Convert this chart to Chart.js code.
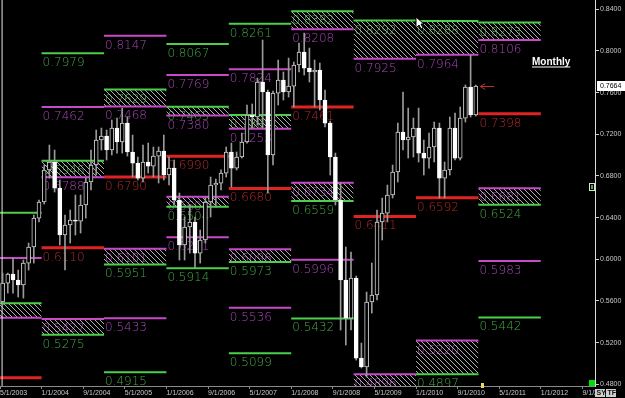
<!DOCTYPE html>
<html><head><meta charset="utf-8">
<script src="https://cdn.jsdelivr.net/npm/chart.js@4.4.1/dist/chart.umd.min.js"></script>
<style>html,body{margin:0;padding:0;background:#000;overflow:hidden}</style>
</head><body>
<canvas id="c" width="625" height="398"></canvas>
<script>
// ---- data: monthly candles, first bar = May 2003 (month index 4 counted from Jan 2003) ----
const firstMonth = 4;
const openP = [
 0.5590,0.5772,0.5859,0.5801,0.5753,0.5964,0.6118,0.6396,
 0.6550,0.6857,0.6934,0.6684,0.6233,0.6329,0.6377,0.6367,0.6521,0.6742,0.6905,0.7145,
 0.7183,0.7049,0.7260,0.7126,0.7308,0.7030,0.6924,0.6780,0.6934,0.6895,0.6991,0.7039,
 0.6809,0.6876,0.6569,0.6137,0.6310,0.6358,0.6060,0.6185,0.6550,0.6713,0.6732,0.6828,
 0.7030,0.6876,0.6982,0.7126,0.7385,0.7366,0.7702,0.7606,0.7001,0.7596,0.7721,0.7606,
 0.7663,0.7865,0.7990,0.7836,0.7798,0.7817,0.7529,0.7308,0.6982,0.6569,0.5801,0.5436,
 0.5820,0.5052,0.4966,0.5590,0.5657,0.6358,0.6444,0.6617,0.6838,0.7222,0.7145,0.7174,
 0.7260,0.7020,0.6972,0.7078,0.7260,0.6780,0.6857,0.7260,0.6972,0.7356,0.7654,0.7385];
const highP = [
 0.5868,0.5868,0.6012,0.5897,0.5993,0.6156,0.6425,0.6569,
 0.6905,0.7097,0.7049,0.6761,0.6425,0.6473,0.6617,0.6617,0.6780,0.7049,0.7241,0.7260,
 0.7241,0.7337,0.7356,0.7452,0.7366,0.7193,0.6982,0.7097,0.7116,0.7078,0.7078,0.7193,
 0.6982,0.6953,0.6636,0.6406,0.6521,0.6406,0.6281,0.6598,0.6790,0.6770,0.6860,0.7078,
 0.7116,0.7030,0.7212,0.7481,0.7491,0.7740,0.8105,0.7625,0.7615,0.7913,0.7798,0.7932,
 0.7894,0.8076,0.8172,0.8028,0.7913,0.7884,0.7625,0.7327,0.7020,0.6732,0.6118,0.6070,
 0.5840,0.5196,0.5686,0.5964,0.6473,0.6588,0.6713,0.6905,0.7308,0.7606,0.7452,0.7356,
 0.7452,0.7145,0.7212,0.7318,0.7308,0.6934,0.7366,0.7404,0.7462,0.7673,0.7961,0.7673];
const lowP = [
 0.5561,0.5676,0.5676,0.5638,0.5628,0.5897,0.5964,0.6358,
 0.6531,0.6780,0.6646,0.6137,0.5897,0.6156,0.6233,0.6252,0.6396,0.6665,0.6809,0.7049,
 0.6953,0.7001,0.7020,0.7020,0.6991,0.6790,0.6761,0.6742,0.6828,0.6790,0.6732,0.6761,
 0.6713,0.6521,0.5993,0.5993,0.6060,0.5917,0.5964,0.6156,0.6406,0.6502,0.6665,0.6790,
 0.6694,0.6857,0.6972,0.7116,0.7260,0.7289,0.7260,0.6636,0.6905,0.7481,0.7529,0.7558,
 0.7462,0.7798,0.7769,0.7702,0.7462,0.7433,0.7270,0.6809,0.6521,0.5321,0.5177,0.5321,
 0.5033,0.4957,0.4870,0.5484,0.5609,0.6185,0.6358,0.6588,0.6742,0.7049,0.6972,0.6982,
 0.6934,0.6809,0.6876,0.6934,0.6588,0.6588,0.6809,0.6953,0.6953,0.7318,0.7366,0.7375];
const closeP = [
 0.5772,0.5859,0.5801,0.5753,0.5964,0.6118,0.6396,0.6550,
 0.6857,0.6934,0.6684,0.6233,0.6329,0.6377,0.6367,0.6521,0.6742,0.6905,0.7145,0.7183,
 0.7049,0.7260,0.7126,0.7308,0.7030,0.6924,0.6780,0.6934,0.6895,0.6991,0.7039,0.6809,
 0.6876,0.6569,0.6137,0.6310,0.6358,0.6060,0.6185,0.6550,0.6713,0.6732,0.6828,0.7030,
 0.6876,0.6982,0.7126,0.7385,0.7366,0.7702,0.7606,0.7001,0.7596,0.7721,0.7606,0.7663,
 0.7865,0.7990,0.7836,0.7798,0.7817,0.7529,0.7308,0.6982,0.6569,0.5801,0.5436,0.5820,
 0.5052,0.4966,0.5590,0.5657,0.6358,0.6444,0.6617,0.6838,0.7222,0.7145,0.7174,0.7260,
 0.7020,0.6972,0.7078,0.7260,0.6780,0.6857,0.7260,0.6972,0.7356,0.7654,0.7385,0.7664];

// ---- yearly pivot levels (null = outside the visible range) ----
const pivotYears = [2003,2004,2005,2006,2007,2008,2009,2010,2011];
const r3Green   = [0.6447,0.7979,null,  0.8067,0.8261,null,  null,  null,  null  ];
const r2Magenta = [0.6013,0.7462,0.8147,0.7769,0.7824,null,  null,  null,  null  ];
const r1Green   = [0.5578,0.6946,0.7629,0.7465,0.7385,0.8382,0.8292,0.8288,0.8273];
const r1Magenta = [0.5440,0.6788,0.7468,0.7380,0.7253,0.8208,0.7925,0.7964,0.8106];
const pivotRed  = [0.4864,0.6110,0.6790,0.6990,0.6680,0.7461,0.6411,0.6592,0.7398];
const s1Magenta = [null,  0.5427,0.6101,0.6601,0.6096,0.6734,0.4896,0.5220,0.6681];
const s1Green   = [null,  0.5275,0.5951,0.6504,0.5973,0.6559,null,  0.4897,0.6524];
const s2Magenta = [null,  null,  0.5433,0.6211,0.5536,0.5996,null,  null,  0.5983];
const s3Green   = [null,  null,  0.4915,0.5914,0.5099,0.5432,null,  null,  0.5442];

// ---- axes ----
const xTickMonths = [4,12,20,28,36,44,52,60,68,76,84,92,100,108,116];
const xTickLabels = ['5/1/2003','1/1/2004','9/1/2004','5/1/2005','1/1/2006','9/1/2006','5/1/2007','1/1/2008','9/1/2008','5/1/2009','1/1/2010','9/1/2010','5/1/2011','1/1/2012','9/1/2012'];
const yTickValues = [0.48,0.52,0.56,0.60,0.64,0.68,0.72,0.76,0.80,0.84];
const separatorMonth = 4.4;
const chartTitle = 'Monthly';

const X_MIN = 4, X_MAX = 118.42, Y_MIN = 0.47838, Y_MAX = 0.84893;
const COL = {
  g: {line:'#4cd04c', text:'#44a844'},
  m: {line:'#c84ac8', text:'#a847b6'},
  r: {line:'#e02222', text:'#b62a2a'}
};

function hatch(){
  const p = 5, c = document.createElement('canvas'); c.width = p; c.height = p;
  const g = c.getContext('2d'); g.strokeStyle = 'rgba(205,205,205,0.85)'; g.lineWidth = 1;
  g.beginPath();
  for (const k of [-p,0,p]) { g.moveTo(k,0); g.lineTo(k+p,p); }
  g.stroke();
  return document.getElementById('c').getContext('2d').createPattern(c,'repeat');
}
const hatchPat = hatch();

const datasets = [];
const levelLabels = [];
function addLevel(v, i, kind, width){
  if (v == null) return -1;
  const s = (pivotYears[i]-2003)*12, e = s+12;
  datasets.push({type:'line', data:[{x:s,y:v},{x:e,y:v}], borderColor:COL[kind].line,
    borderWidth:width, pointRadius:0, fill:false, order:5, tension:0});
  levelLabels.push({x:s, y:v, text:v.toFixed(4), color:COL[kind].text});
  return datasets.length-1;
}
pivotYears.forEach((yr,i)=>{
  addLevel(r3Green[i], i, 'g', 2);
  addLevel(r2Magenta[i], i, 'm', 2);
  const b1 = addLevel(r1Magenta[i], i, 'm', 2);
  const t1 = addLevel(r1Green[i], i, 'g', 2);
  if (t1 >= 0) { datasets[t1].fill = b1 >= 0 ? {target:b1} : 'start'; datasets[t1].backgroundColor = hatchPat; }
  addLevel(pivotRed[i], i, 'r', 3);
  const b2 = addLevel(s1Green[i], i, 'g', 2);
  const t2 = addLevel(s1Magenta[i], i, 'm', 2);
  if (t2 >= 0) { datasets[t2].fill = b2 >= 0 ? {target:b2} : 'start'; datasets[t2].backgroundColor = hatchPat; }
  addLevel(s2Magenta[i], i, 'm', 2);
  addLevel(s3Green[i], i, 'g', 2);
});
datasets.push({type:'line', data:[{x:separatorMonth,y:Y_MIN},{x:separatorMonth,y:Y_MAX}],
  borderColor:'#e8e8e8', borderWidth:1, pointRadius:0, fill:false, order:4});

const isDown = i => closeP[i] < openP[i];
datasets.push({type:'bar', label:'wick', grouped:false, order:2, barThickness:1,
  data: openP.map((o,i)=>({x:firstMonth+i+0.5, y:[lowP[i],highP[i]]})),
  backgroundColor:'#9a9a9a', borderWidth:0});
datasets.push({type:'bar', label:'body', grouped:false, order:1, barThickness:4, minBarLength:1,
  data: openP.map((o,i)=>({x:firstMonth+i+0.5, y:[o,closeP[i]]})),
  backgroundColor: c => isDown(c.dataIndex) ? '#ffffff' : '#000000',
  borderColor: c => isDown(c.dataIndex) ? '#ffffff' : '#d0d0d0',
  borderWidth:1, borderSkipped:false});

const overlay = {
  id:'overlay',
  beforeDraw(chart){ const c=chart.ctx; c.save(); c.fillStyle='#000'; c.fillRect(0,0,chart.width,chart.height); c.restore(); },
  beforeDatasetsDraw(chart){
    const {ctx:c, chartArea:a, scales:{x,y}} = chart;
    c.save(); c.beginPath(); c.rect(a.left,a.top,a.right-a.left,a.bottom-a.top); c.clip();
    c.font = '200 12px "DejaVu Sans"'; c.textAlign='left'; c.textBaseline='alphabetic';
    for (const L of levelLabels){
      if (L.x < X_MIN) continue;
      c.fillStyle = L.color;
      c.fillText(L.text, x.getPixelForValue(L.x)+1, y.getPixelForValue(L.y)+13);
    }
    c.restore();
  },
  afterDraw(chart){
    const {ctx:c, scales:{x,y}} = chart;
    const last = closeP[closeP.length-1];
    const py = Math.round(y.getPixelForValue(last));
    c.save();
    c.fillStyle='#ffffff'; c.fillRect(597, py-5, 28, 10);
    c.fillStyle='#000'; c.font='7px "Liberation Sans"'; c.textBaseline='middle'; c.textAlign='left';
    c.fillText(last.toFixed(4), 600, py+0.5);
    const ax = x.getPixelForValue(firstMonth+closeP.length+0.35);
    c.strokeStyle='#b83030'; c.lineWidth=1; c.beginPath();
    c.moveTo(ax, py+0.5); c.lineTo(ax+14, py+0.5);
    c.moveTo(ax, py+0.5); c.lineTo(ax+5, py-2.5);
    c.moveTo(ax, py+0.5); c.lineTo(ax+5, py+3.5); c.stroke();
    c.fillStyle='#fff'; c.font='bold 10px "Liberation Sans"'; c.textBaseline='alphabetic';
    c.fillText(chartTitle, 532, 65);
    const tw = c.measureText(chartTitle).width; c.fillRect(532, 66.5, tw, 1);
    c.fillStyle='#e8dc60'; c.fillRect(Math.round(ax)+1, 383, 3, 5);
    c.fillStyle='#00e000'; c.fillRect(589, 380, 6, 6);
    c.strokeStyle='#ddd'; c.strokeRect(589.5,183.5,5,7); c.fillStyle='#30c030'; c.fillRect(591,185,2,4);
    c.font='bold 7px "Liberation Sans"'; c.textBaseline='middle';
    [['SY',595],['TF',606]].forEach(([t,bx])=>{ c.fillStyle='#cfcfcf'; c.fillRect(bx,389,10,8); c.fillStyle='#111'; c.fillText(t,bx+1.5,393.5); });
    c.fillStyle='#fff'; c.strokeStyle='#000'; c.beginPath();
    const cx=416, cy=17; c.moveTo(cx,cy); c.lineTo(cx,cy+11); c.lineTo(cx+3,cy+8); c.lineTo(cx+5,cy+12);
    c.lineTo(cx+7,cy+11); c.lineTo(cx+5,cy+7); c.lineTo(cx+8,cy+7); c.closePath(); c.fill(); c.stroke();
    c.restore();
  }
};

new Chart(document.getElementById('c'), {
  type:'bar',
  data:{datasets},
  options:{
    responsive:false, animation:false, devicePixelRatio:1,
    layout:{padding:0},
    plugins:{legend:{display:false}, tooltip:{enabled:false}},
    scales:{
      x:{type:'linear', min:X_MIN, max:X_MAX, offset:false, position:'bottom',
        grid:{display:true, drawOnChartArea:false, drawTicks:true, tickLength:3, color:'#8a8a8a', offset:false},
        border:{display:true, color:'#8a8a8a', width:1},
        afterBuildTicks: s => { s.ticks = xTickMonths.map(v=>({value:v})); },
        afterFit: s => { s.height = 12; s.paddingLeft = 0; s.paddingRight = 0; },
        ticks:{autoSkip:false, maxRotation:0, minRotation:0, align:'start', padding:0,
          color:'#c8c8c8', font:{family:'Liberation Sans', size:7},
          callback: v => xTickLabels[xTickMonths.indexOf(v)] }
      },
      y:{type:'linear', position:'right', min:Y_MIN, max:Y_MAX,
        grid:{display:true, drawOnChartArea:false, drawTicks:true, tickLength:4, color:'#cfcfcf'},
        border:{display:true, color:'#d8d8d8', width:1},
        afterBuildTicks: s => { s.ticks = yTickValues.map(v=>({value:v})); },
        afterFit: s => { s.width = 30; s.paddingTop = 0; s.paddingBottom = 0; },
        ticks:{padding:1, color:'#c8c8c8', font:{family:'Liberation Sans', size:7},
          callback: v => Number(v).toFixed(4)}
      }
    }
  },
  plugins:[overlay]
});
</script>
</body></html>
